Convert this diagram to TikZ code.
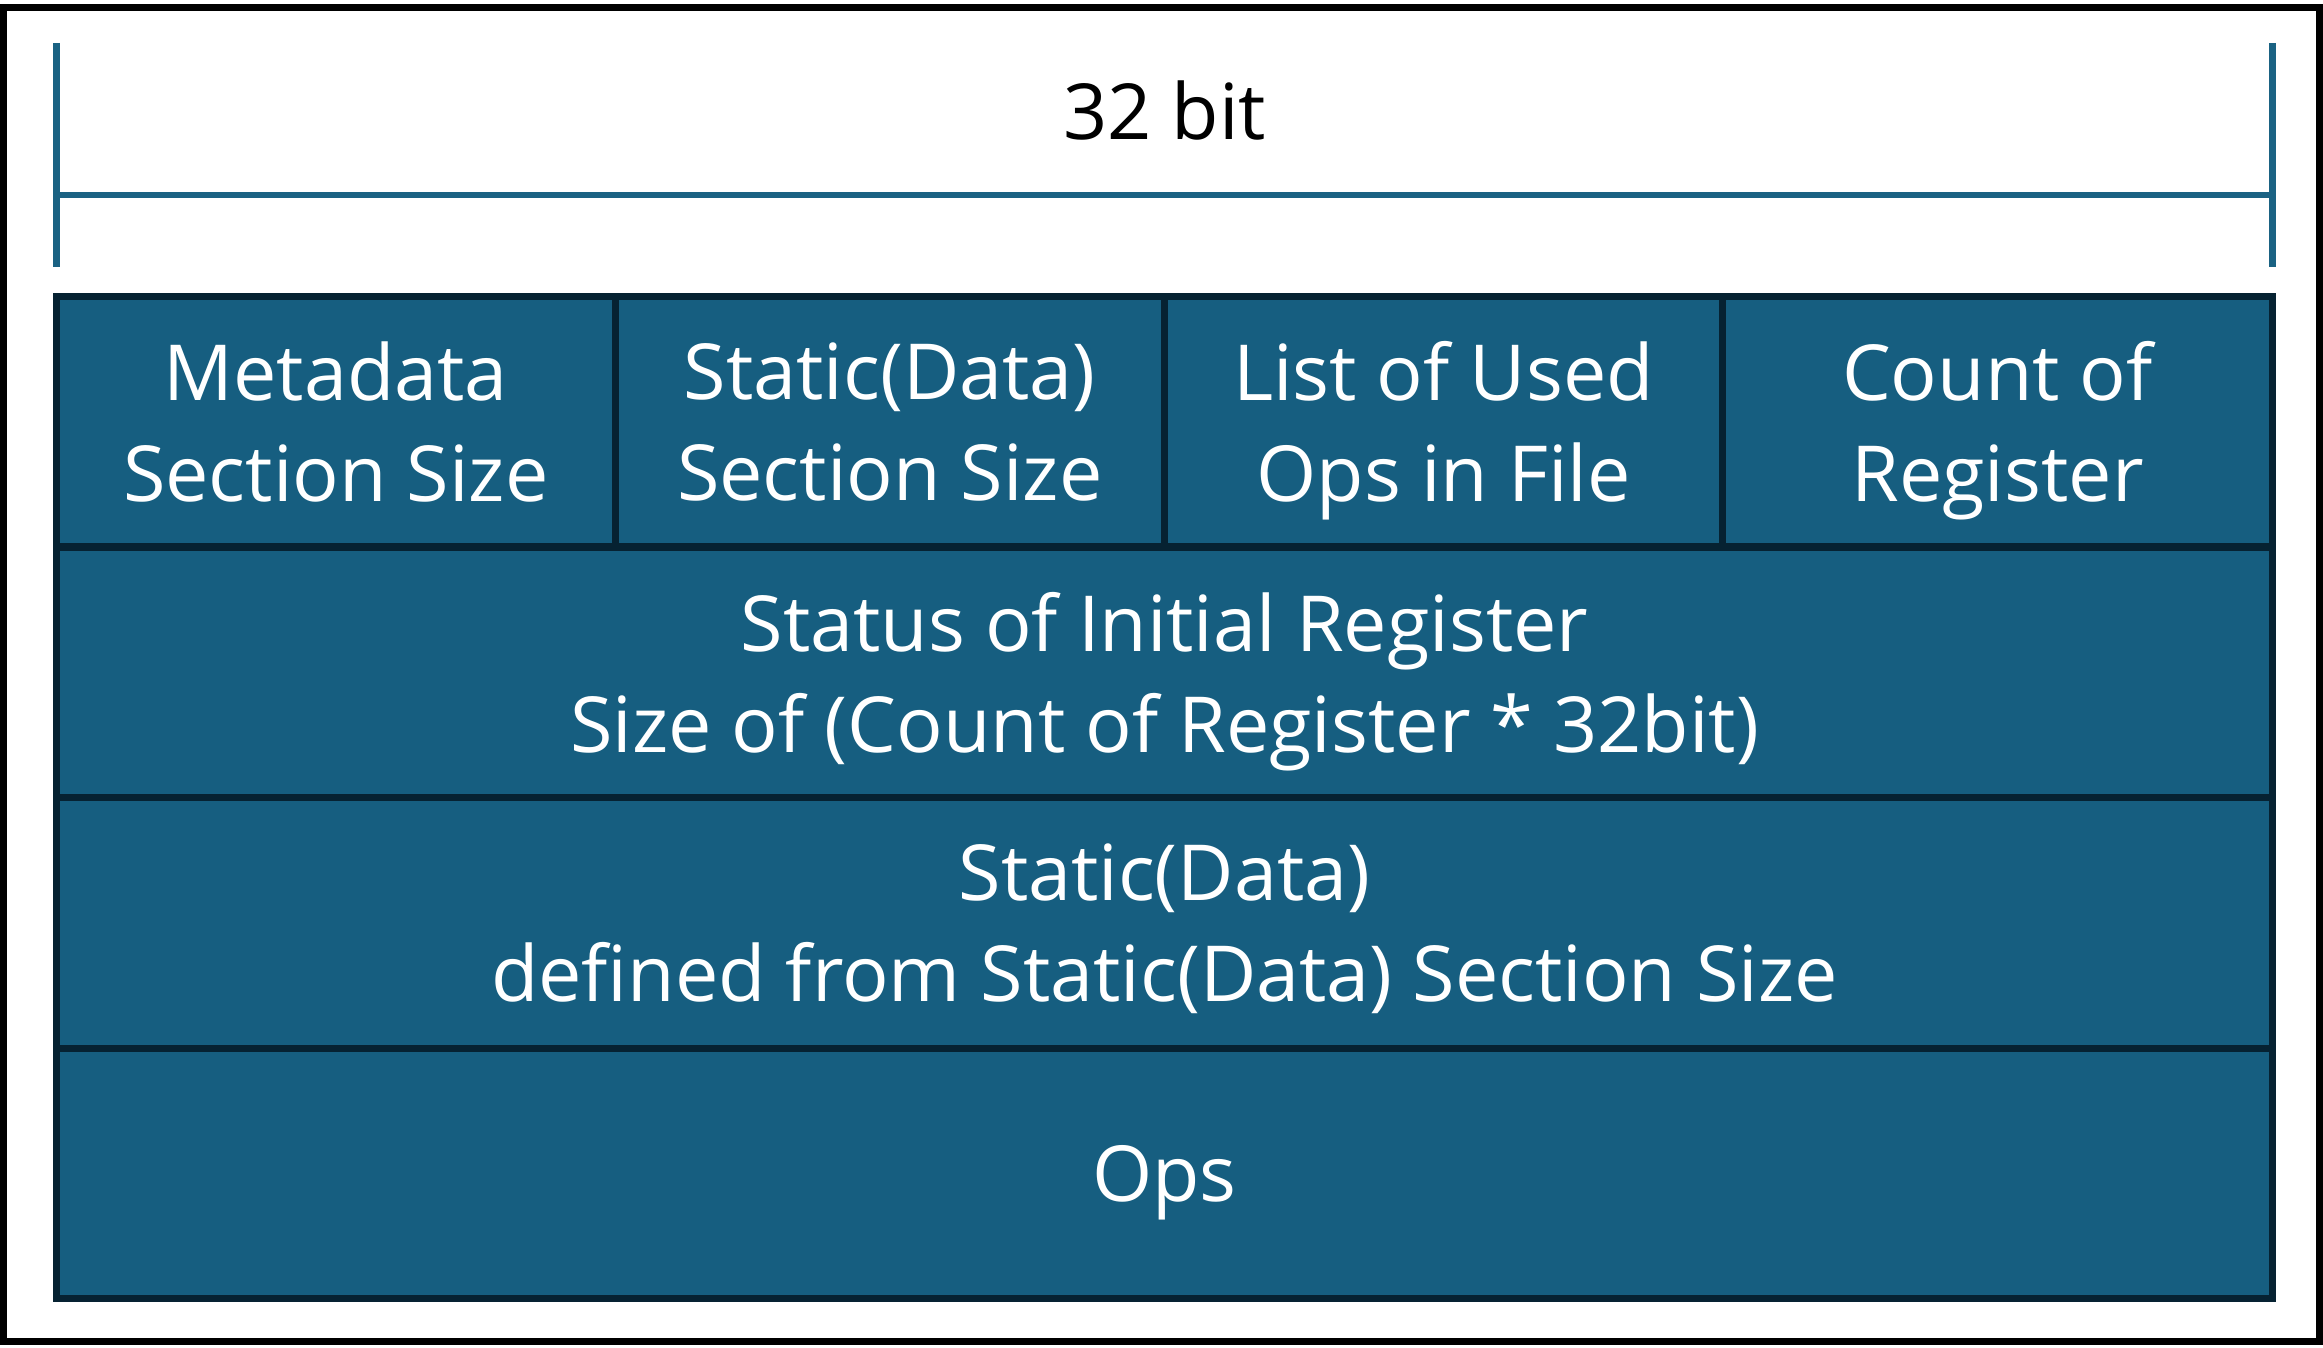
\documentclass[tikz,border=0pt]{standalone}
\usepackage{fontspec}
\newfontfamily\cellfont{Open Sans}
\definecolor{cellfill}{HTML}{165E80}
\definecolor{celledge}{HTML}{062232}
\definecolor{bracecol}{HTML}{1A6283}
\tikzset{
  cell/.style={draw=celledge, fill=cellfill, text=white, line width=0.07cm,
    minimum height=2.505cm, inner sep=0pt, outer sep=0pt, align=center,
    text depth=0pt, font=\cellfont\fontsize{22}{28.7}\selectfont},
  fullrow/.style={cell, minimum width=22.16cm}
}
\begin{document}
\begin{tikzpicture}
  \useasboundingbox (0,0) rectangle (23.23,13.47);
  % outer frame
  \draw[line width=0.07cm] (0.035,0.055) rectangle (23.195,13.395);

  % width marker
  \coordinate (bl) at (0.565,11.52);
  \coordinate (br) at (22.725,11.52);
  \draw[bracecol, line width=0.065cm] (0.565,13.04) -- (0.565,10.80);
  \draw[bracecol, line width=0.065cm] (22.725,13.04) -- (22.725,10.80);
  \draw[bracecol, line width=0.065cm] (bl) -- (br);
  \node[font=\cellfont\fontsize{22}{28.7}\selectfont] (width) at (11.645,12.36) {32 bit};

  % first row: four fields
  \node[cell, minimum width=5.585cm] (meta) at (3.3575,9.2525) {Metadata\\Section Size};
  \node[cell, minimum width=5.495cm] (static) at (8.8975,9.2525) {Static(Data)\\Section Size};
  \node[cell, minimum width=5.58cm] (used) at (14.435,9.2525) {List of Used\\Ops in File};
  \node[cell, minimum width=5.50cm] (count) at (19.975,9.2525) {Count of\\Register};

  % full width rows
  \node[fullrow] (status) at (11.645,6.7475) {Status of Initial Register\\Size of (Count of Register * 32bit)};
  \node[fullrow] (data) at (11.645,4.2425) {Static(Data)\\defined from Static(Data) Section Size};
  \node[fullrow] (ops) at (11.645,1.7375) {Ops};
\end{tikzpicture}
\end{document}
